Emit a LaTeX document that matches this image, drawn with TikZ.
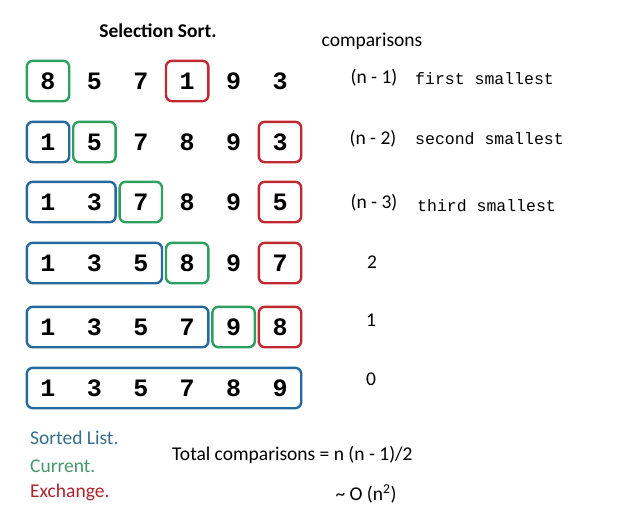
\documentclass[tikz,border=0pt]{standalone}
\usepackage{fontspec}
\setmainfont{Carlito}
\setmonofont{Liberation Mono}
\usetikzlibrary{fit,positioning}

\definecolor{sortblue}{RGB}{38,105,158}
\definecolor{curgreen}{RGB}{45,160,95}
\definecolor{swapred}{RGB}{192,40,50}
\definecolor{legblue}{RGB}{55,110,140}
\definecolor{leggreen}{RGB}{70,150,110}
\definecolor{legred}{RGB}{175,35,45}

\begin{document}
\begin{tikzpicture}[x=1pt, y=-1pt,
    digit/.style={minimum width=42pt, minimum height=40pt, inner sep=0pt,
        font=\ttfamily\bfseries\fontsize{25}{25}\selectfont},
    sortedbox/.style={draw=sortblue, line width=2.4pt, rounded corners=6pt, inner sep=0pt},
    currentbox/.style={draw=curgreen, line width=2.4pt, rounded corners=6pt, inner sep=0pt},
    swapbox/.style={draw=swapred, line width=2.4pt, rounded corners=6pt, inner sep=0pt},
    txt/.style={inner sep=0pt, font=\fontsize{19.5}{22}\selectfont},
    code/.style={inner sep=0pt, anchor=west, font=\ttfamily\fontsize{16.5}{18}\selectfont}]

    \useasboundingbox (0,0) rectangle (621,507);

    % Title and column heading
    \node (title) [txt, font=\bfseries\fontsize{19.5}{22}\selectfont] at (158,31) {Selection Sort.};
    \node (cmphead) [txt] at (372,41) {comparisons};

    % Define digit nodes, one row per pass
    \foreach \y/\vals [count=\r] in {81/{8,5,7,1,9,3}, 142/{1,5,7,8,9,3},
        202/{1,3,7,8,9,5}, 263/{1,3,5,8,9,7}, 327/{1,3,5,7,9,8}, 388/{1,3,5,7,8,9}}
        \foreach \d [count=\c] in \vals
            \node (r\r c\c) [digit] at ({48+46.4*(\c-1)},\y) {\d};

    % Boxes: sorted part, current position, element to exchange
    \node (cur1) [currentbox, fit=(r1c1)] {};
    \node (swap1) [swapbox, fit=(r1c4)] {};

    \node (sorted2) [sortedbox, fit=(r2c1)] {};
    \node (cur2) [currentbox, fit=(r2c2)] {};
    \node (swap2) [swapbox, fit=(r2c6)] {};

    \node (sorted3) [sortedbox, fit=(r3c1)(r3c2)] {};
    \node (cur3) [currentbox, fit=(r3c3)] {};
    \node (swap3) [swapbox, fit=(r3c6)] {};

    \node (sorted4) [sortedbox, fit=(r4c1)(r4c3)] {};
    \node (cur4) [currentbox, fit=(r4c4)] {};
    \node (swap4) [swapbox, fit=(r4c6)] {};

    \node (sorted5) [sortedbox, fit=(r5c1)(r5c4)] {};
    \node (cur5) [currentbox, fit=(r5c5)] {};
    \node (swap5) [swapbox, fit=(r5c6)] {};

    \node (sorted6) [sortedbox, fit=(r6c1)(r6c6)] {};

    % Comparisons per pass
    \node (cmp1) [txt] at (374,78) {(n - 1)};
    \node (cmp2) [txt] at (373,139) {(n - 2)};
    \node (cmp3) [txt] at (374,203) {(n - 3)};
    \node (cmp4) [txt] at (372,262) {2};
    \node (cmp5) [txt] at (371,320) {1};
    \node (cmp6) [txt] at (371,379) {0};

    \node (note1) [code] at (415,79) {first smallest};
    \node (note2) [code] at (415,139) {second smallest};
    \node (note3) [code] at (417,206) {third smallest};

    % Legend
    \node (legsorted) [txt, anchor=west, text=legblue] at (30,438) {Sorted List.};
    \node (legcur) [txt, anchor=west, text=leggreen] at (30,466) {Current.};
    \node (legswap) [txt, anchor=west, text=legred] at (30,492) {Exchange.};

    % Totals
    \node (total) [txt, anchor=west] at (172,455) {Total comparisons = n (n - 1)/2};
    \node (order) [txt] at (366,494) {\textasciitilde{} O (n\textsuperscript{2})};

\end{tikzpicture}
\end{document}
